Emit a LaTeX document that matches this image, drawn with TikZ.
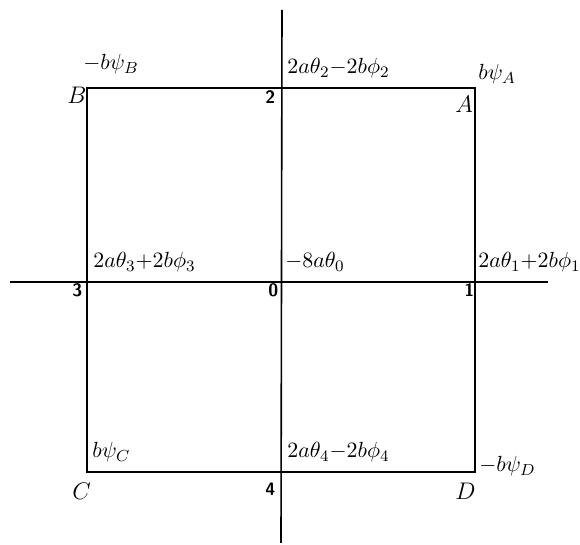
\documentclass[tikz,border=0pt]{standalone}
\begin{document}
\begin{tikzpicture}[x=0.5pt,y=-0.5pt,
  frame/.style={line width=0.8pt},
  lbl/.style={anchor=base west,inner sep=0pt,font=\fontsize{11.3}{13}\selectfont},
  corner/.style={anchor=base west,inner sep=0pt,font=\large},
  num/.style={anchor=base west,inner sep=0pt,font=\sffamily\bfseries\fontsize{9}{10}\selectfont}]
\useasboundingbox (0,0) rectangle (580,545);
% coordinates
\coordinate (cB) at (87,88);
\coordinate (cA) at (475,88);
\coordinate (cD) at (475,472);
\coordinate (cC) at (87,472);
\coordinate (top) at (282,10);
\coordinate (bot) at (281,543);
\coordinate (lft) at (10,282);
\coordinate (rgt) at (548,282);
% lines
\draw[frame] (cB) -- (cA) -- (cD) -- (cC) -- cycle;
\draw[frame] (top) -- (bot);
\draw[frame] (lft) -- (rgt);
% top labels
\node[lbl] (lB) at (83,70) {$-b\psi_B$};
\node[lbl] (l2) at (287,74) {$2a\theta_2{-}2b\phi_2$};
\node[lbl] (lA) at (478,80) {$b\psi_A$};
\node[corner] (nB) at (67,104) {$B$};
\node[num] (n2) at (265,104) {2};
\node[corner] (nA) at (455,113) {$A$};
% middle labels
\node[lbl] (l3) at (93,268) {$2a\theta_3{+}2b\phi_3$};
\node[lbl] (l0) at (285,268) {$-8a\theta_0$};
\node[lbl] (l1) at (478,268) {$2a\theta_1{+}2b\phi_1$};
\node[num] (n3) at (72,297) {3};
\node[num] (n0) at (268,297) {0};
\node[num] (n1) at (464,297) {1};
% bottom labels
\node[lbl] (lC) at (92,458) {$b\psi_C$};
\node[lbl] (l4) at (287,458) {$2a\theta_4{-}2b\phi_4$};
\node[lbl] (lD) at (479,472) {$-b\psi_D$};
\node[corner] (nC) at (72,500) {$C$};
\node[num] (n4) at (265,496) {4};
\node[corner] (nD) at (455,500) {$D$};
\end{tikzpicture}
\end{document}
